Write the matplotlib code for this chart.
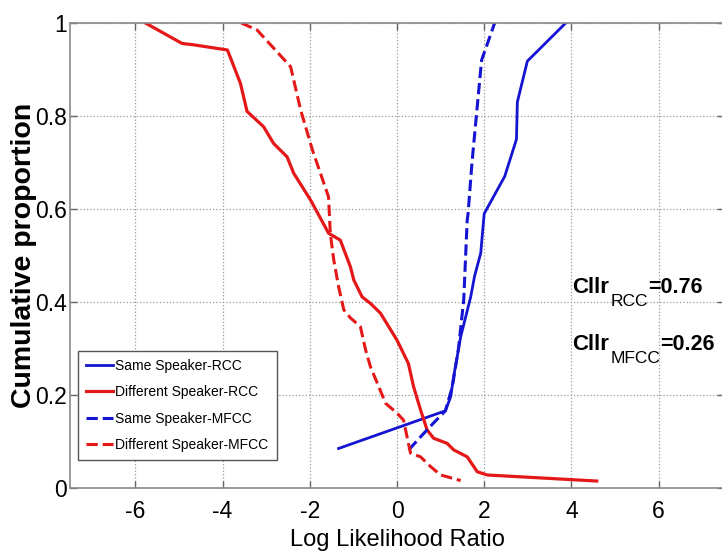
import matplotlib
matplotlib.use('Agg')
import matplotlib.pyplot as plt

plt.rcParams['font.family'] = ['Liberation Sans', 'DejaVu Sans']

# Same Speaker-RCC (blue, solid)
same_rcc_x = [-1.34, 1.11, 1.23, 1.30, 1.38, 1.46, 1.69, 1.78, 1.92, 2.0, 2.47, 2.74, 2.76, 2.99, 3.87]
same_rcc_y = [0.085, 0.166, 0.196, 0.24, 0.282, 0.325, 0.411, 0.456, 0.505, 0.59, 0.67, 0.75, 0.83, 0.918, 1.0]

# Different Speaker-RCC (red, solid)
diff_rcc_x = [-5.77, -4.93, -4.66, -3.89, -3.59, -3.44, -3.06, -2.83, -2.52, -2.37, -1.98, -1.57, -1.30,
              -1.07, -0.99, -0.80, -0.61, -0.38, 0.0, 0.26, 0.38, 0.54, 0.69, 0.84, 1.15, 1.30, 1.61,
              1.84, 2.07, 4.58]
diff_rcc_y = [1.0, 0.956, 0.953, 0.942, 0.87, 0.81, 0.777, 0.741, 0.712, 0.677, 0.619, 0.548, 0.533,
              0.476, 0.447, 0.411, 0.397, 0.376, 0.318, 0.268, 0.218, 0.168, 0.125, 0.107, 0.096, 0.082,
              0.067, 0.035, 0.028, 0.015]

# Same Speaker-MFCC (blue, dashed)
same_mfcc_x = [0.27, 0.54, 0.84, 1.11, 1.27, 1.41, 1.53, 1.61, 1.63, 1.72, 1.82, 1.94, 2.24]
same_mfcc_y = [0.082, 0.11, 0.14, 0.166, 0.218, 0.30, 0.404, 0.576, 0.59, 0.70, 0.80, 0.92, 1.0]

# Different Speaker-MFCC (red, dashed)
diff_mfcc_x = [-3.57, -3.21, -2.44, -2.21, -1.94, -1.57, -1.53, -1.45, -1.34, -1.22, -1.07, -0.84,
               -0.72, -0.61, -0.45, -0.26, 0.0, 0.15, 0.23, 0.31, 0.54, 0.77, 1.0, 1.46]
diff_mfcc_y = [1.0, 0.985, 0.906, 0.813, 0.727, 0.626, 0.548, 0.49, 0.433, 0.383, 0.366, 0.347,
               0.297, 0.261, 0.225, 0.182, 0.161, 0.146, 0.11, 0.075, 0.067, 0.046, 0.028, 0.016]

x_ticks = [-6, -4, -2, 0, 2, 4, 6]
y_ticks = [0, 0.2, 0.4, 0.6, 0.8, 1]
y_tick_labels = ['0', '0.2', '0.4', '0.6', '0.8', '1']

# Cllr annotations: (main, subscript, value)
cllr_rows = [('Cllr', 'RCC', '=0.76'), ('Cllr', 'MFCC', '=0.26')]

blue = '#1414d2'
red = '#e41818'

fig = plt.figure(figsize=(7.22, 5.52), dpi=100)
ax = fig.add_axes([70 / 722, 64 / 552, 654 / 722, 465 / 552])

ax.plot(same_rcc_x, same_rcc_y, color=blue, lw=2.0, label='Same Speaker-RCC')
ax.plot(diff_rcc_x, diff_rcc_y, color=red, lw=2.3, label='Different Speaker-RCC')
ax.plot(same_mfcc_x, same_mfcc_y, color=blue, lw=2.2, ls='--', label='Same Speaker-MFCC')
ax.plot(diff_mfcc_x, diff_mfcc_y, color=red, lw=2.2, ls='--', label='Different Speaker-MFCC')

ax.set_xlim(-7.5, 7.5)
ax.set_ylim(0, 1)
ax.set_xticks(x_ticks)
ax.set_xticklabels([str(t) for t in x_ticks])
ax.set_yticks(y_ticks)
ax.set_yticklabels(y_tick_labels)
ax.tick_params(direction='in', length=5, width=1, color='#666666', labelsize=16.5,
               top=True, right=True)
ax.tick_params(axis='x', pad=9)
ax.tick_params(axis='y', pad=2)
ax.grid(True, ls=':', color='#999999', lw=0.9)
for s in ax.spines.values():
    s.set_color('#8a8a8a')
    s.set_linewidth(1.2)

ax.set_xlabel('Log Likelihood Ratio', fontsize=17, labelpad=4)
ax.set_ylabel('Cumulative proportion', fontsize=20.5, fontweight='bold')
ax.yaxis.set_label_coords(-0.05, 0.5)

# Cllr texts built piece by piece so the subscript sits low like the original
renderer = fig.canvas.get_renderer()
to_data = ax.transData.inverted()
for (main, sub, val), y in zip(cllr_rows, [0.42, 0.297]):
    t1 = ax.text(4.02, y, main, fontsize=16, fontweight='bold')
    bb = t1.get_window_extent(renderer)
    base_px = ax.transData.transform((4.02, y))[1]
    sx, sy = to_data.transform((bb.x1 + 1, base_px - 13))
    t2 = ax.text(sx, sy, sub, fontsize=12.5)
    bb2 = t2.get_window_extent(renderer)
    vx, vy = to_data.transform((bb2.x1, base_px))
    ax.text(vx, vy, val, fontsize=15.5, fontweight='bold')

leg = ax.legend(loc='lower left', bbox_to_anchor=(0.012, 0.06), fontsize=10, handlelength=1.95,
                handletextpad=0.15, labelspacing=0.88, borderpad=0.6, borderaxespad=0,
                fancybox=False, framealpha=1)
leg.get_frame().set_edgecolor('#555555')
leg.get_frame().set_linewidth(1.0)

fig.savefig('out.png', dpi=100)
